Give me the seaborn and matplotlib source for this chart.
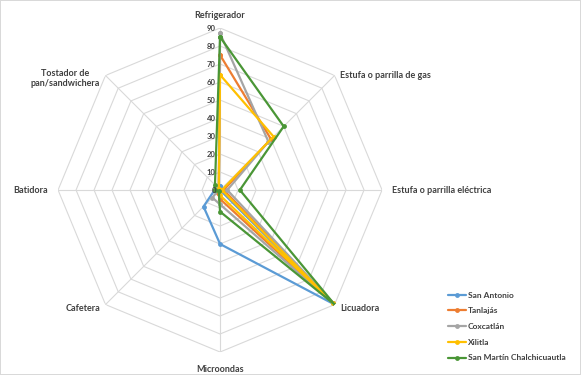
import numpy as np
import pandas as pd
import matplotlib
matplotlib.use('Agg')
import matplotlib.pyplot as plt
import seaborn as sns

# aparatos (ejes del radar), en sentido horario desde arriba
categories = ['Refrigerador', 'Estufa o parrilla de gas', 'Estufa o parrilla eléctrica',
              'Licuadora', 'Microondas', 'Cafetera', 'Batidora',
              'Tostador de\npan/sandwichera']

zonas = ['San Antonio', 'Tanlajás', 'Coxcatlán', 'Xilitla', 'San Martín Chalchicuautla']

san_antonio = [2, 1, 0, 90, 30, 13, 3, 1]
tanlajas = [75, 40, 2, 89, 5, 2, 1, 1]
coxcatlan = [87, 38, 4, 89, 8, 6, 1, 1]
xilitla = [64, 42, 1, 89, 3, 1, 1, 1]
san_martin = [85, 50, 11, 90, 12, 1, 3, 4]

r_ticks = [0, 10, 20, 30, 40, 50, 60, 70, 80, 90]

colores = ['#5B9BD5', '#ED7D31', '#A5A5A5', '#FFC000', '#4A9636']


def build_df():
    angles = list(np.linspace(0, 2 * np.pi, len(categories), endpoint=False))
    rows = []
    for zona, vals in zip(zonas, [san_antonio, tanlajas, coxcatlan, xilitla, san_martin]):
        for a, v in zip(angles + [2 * np.pi], vals + [vals[0]]):
            rows.append({'zona': zona, 'theta': a, 'valor': v})
    return pd.DataFrame(rows), angles


sns.set_style('white')
plt.rcParams['font.family'] = ['Lato', 'DejaVu Sans']

df, angles = build_df()

fig = plt.figure(figsize=(5.81, 3.75), dpi=100, edgecolor='#D9D9D9', linewidth=1.2)
ax = fig.add_axes([0.0999, 0.0613, 0.5577, 0.864], projection='polar')
ax.set_theta_offset(np.pi / 2)
ax.set_theta_direction(-1)
ax.set_ylim(0, 90)
ax.grid(False)
ax.spines['polar'].set_visible(False)
ax.set_xticks([])
ax.set_yticks([])
ax.patch.set_alpha(0)

# rejilla octagonal estilo Excel
grid_col = '#D9D9D9'
for r in r_ticks[1:]:
    ax.plot(angles + [2 * np.pi], [r] * (len(angles) + 1), color=grid_col, lw=0.8, zorder=0)
for a in angles:
    ax.plot([a, a], [0, 90], color=grid_col, lw=0.8, zorder=0)

sns.lineplot(data=df, x='theta', y='valor', hue='zona', palette=colores, sort=False,
             marker='o', markersize=3.5, markeredgewidth=0, lw=1.6, ax=ax,
             estimator=None, zorder=3)
ax.set_xlabel('')
ax.set_ylabel('')
ax.set_ylim(0, 90)

for r in r_ticks:
    ax.annotate(str(r), xy=(0, r), xytext=(-3, 0), textcoords='offset points',
                ha='right', va='center', fontsize=5.5, fontweight='bold', color='#404040')

label_pos = [
    ((0, 6), 'center', 'bottom'),
    ((4, 0), 'left', 'center'),
    ((7, 0), 'left', 'center'),
    ((4, -3), 'left', 'center'),
    ((0, -9), 'center', 'top'),
    ((-4, -3), 'right', 'center'),
    ((-7, 0), 'right', 'center'),
    ((-29, -2), 'center', 'center'),
]
for a, cat, (off, ha, va) in zip(angles, categories, label_pos):
    ax.annotate(cat, xy=(a, 90), xytext=off, textcoords='offset points',
                ha=ha, va=va, fontsize=6.5, fontweight='bold', color='#404040',
                annotation_clip=False, linespacing=1.1)

leg = ax.legend(loc='upper left', bbox_to_anchor=(440 / 581, 1 - 284 / 375),
                bbox_transform=fig.transFigure, frameon=False, fontsize=6,
                handlelength=2.2, handletextpad=0.2, labelspacing=1.05)
for t in leg.get_texts():
    t.set_fontweight('bold')
    t.set_color('#404040')

fig.savefig('out.png', dpi=100)
